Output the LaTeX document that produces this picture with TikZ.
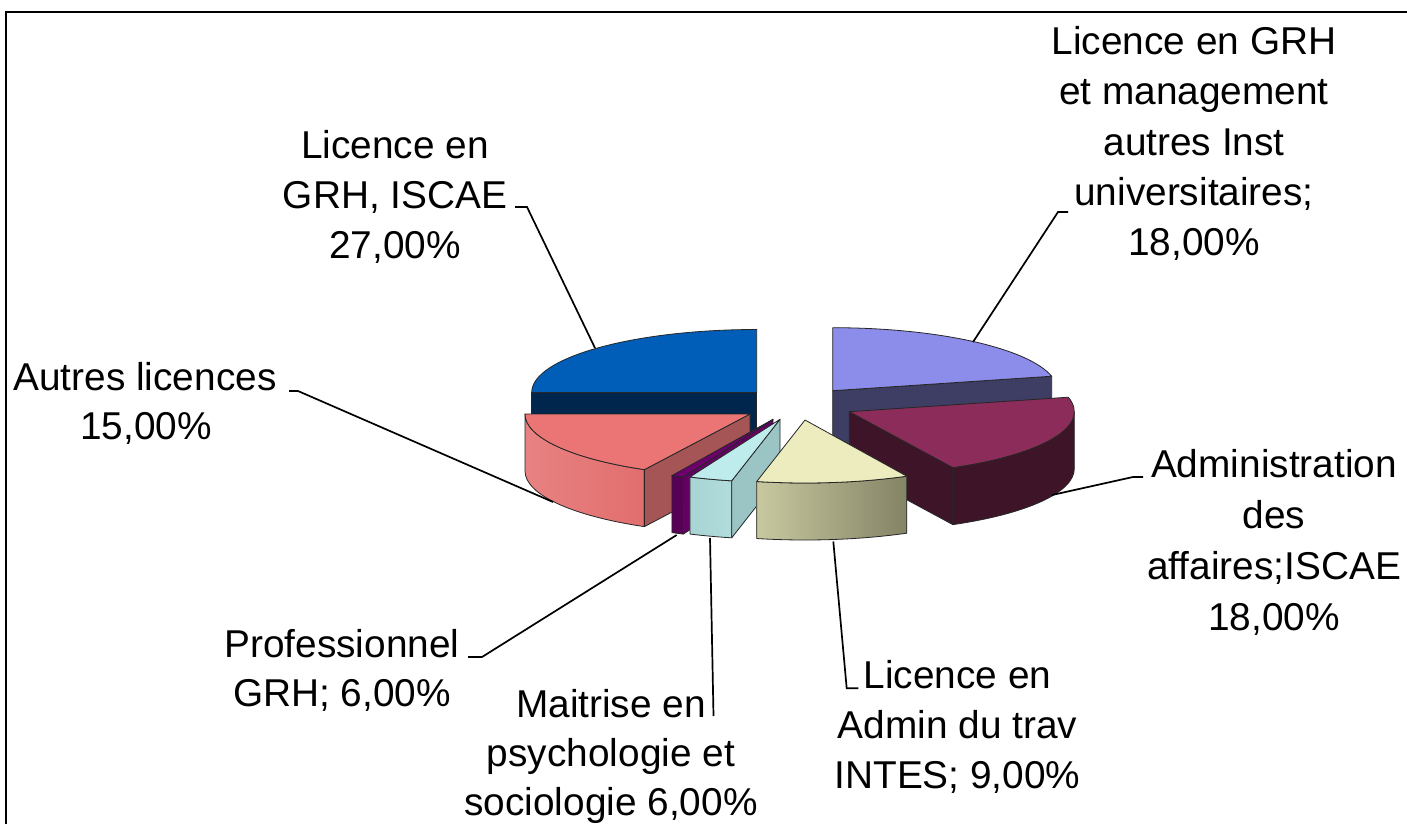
\documentclass[tikz,border=0pt]{standalone}
\usepackage{fontspec}
\setmainfont{Liberation Sans}
\definecolor{blueTop}{RGB}{0,94,184}
\definecolor{blueSide}{RGB}{0,38,78}
\definecolor{lpTop}{RGB}{140,140,234}
\definecolor{lpSide}{RGB}{62,62,100}
\definecolor{mrTop}{RGB}{140,44,90}
\definecolor{mrSide}{RGB}{62,20,40}
\definecolor{pkTop}{RGB}{235,117,117}
\definecolor{pkWallL}{RGB}{232,130,130}
\definecolor{pkWallR}{RGB}{226,110,110}
\definecolor{pkSide}{RGB}{165,85,85}
\definecolor{ppTop}{RGB}{110,0,110}
\definecolor{ppFront}{RGB}{88,0,88}
\definecolor{ppSide}{RGB}{100,0,100}
\definecolor{cyTop}{RGB}{190,236,236}
\definecolor{cyWallL}{RGB}{168,212,212}
\definecolor{cyWallR}{RGB}{178,220,220}
\definecolor{cySide}{RGB}{155,196,196}
\definecolor{crTop}{RGB}{236,236,190}
\definecolor{crWallL}{RGB}{200,200,160}
\definecolor{crWallR}{RGB}{132,132,102}
% top face of a slice: centre x, centre y, start angle, end angle, style
\newcommand\pieTop[5]{\path[#5] (#1,#2) -- ({#1+225*cos(#3)},{#2-63*sin(#3)}) arc[start angle=#3,end angle=#4,x radius=225pt,y radius=63pt] -- cycle;}
% outer wall of a slice
\newcommand\pieWall[5]{\path[#5] ({#1+225*cos(#3)},{#2-63*sin(#3)}) arc[start angle=#3,end angle=#4,x radius=225pt,y radius=63pt] -- ++(0,57) arc[start angle=#4,end angle=#3,x radius=225pt,y radius=63pt] -- cycle;}
% radial cut face of a slice
\newcommand\pieRad[4]{\path[#4] (#1,#2) -- ({#1+225*cos(#3)},{#2-63*sin(#3)}) -- ++(0,57) -- (#1,{#2+57}) -- cycle;}
\begin{document}
\begin{tikzpicture}[x=1pt,y=-1pt,
  face/.style={draw=black!85,line width=0.8pt,line join=round},
  leader/.style={draw=black,line width=1.7pt,line join=miter},
  lbl/.style={anchor=base,inner sep=0pt,font=\fontsize{38.8}{50}\selectfont}]
\useasboundingbox (0,0) rectangle (1407,824);
\fill[white] (0,0) rectangle (1407,824);
\draw[line width=1.3pt] (6,824) -- (6,12) -- (1407,12);

% Licence en GRH, ISCAE (blue)
\pieRad{756.7}{392.5}{180}{face,fill=blueSide}
\pieTop{756.7}{392.5}{90}{180}{face,fill=blueTop}
% Licence en GRH et management (light purple)
\pieRad{832.7}{390.7}{13.3}{face,fill=lpSide}
\pieTop{832.7}{390.7}{13.3}{90}{face,fill=lpTop}
% Autres licences (pink)
\pieWall{750}{414}{180}{242}{face,left color=pkWallL,right color=pkWallR}
\pieRad{750}{414}{242}{face,fill=pkSide}
\pieTop{750}{414}{180}{242}{face,fill=pkTop}
% Administration des affaires (maroon)
\pieRad{849.3}{411.7}{-62.6}{face,fill=mrSide}
\pieWall{849.3}{411.7}{-62.6}{0}{face,fill=mrSide}
\pieTop{849.3}{411.7}{-62.6}{13.3}{face,fill=mrTop}
% Professionnel GRH (purple)
\pieWall{773}{419.3}{243.3}{246.5}{face,fill=ppFront}
\pieRad{773}{419.3}{246.5}{face,fill=ppSide}
\pieTop{773}{419.3}{243.3}{246.5}{face,fill=ppTop}
% Maitrise (cyan)
\pieWall{780}{419.3}{246.4}{257.6}{face,left color=cyWallL,right color=cyWallR}
\pieRad{780}{419.3}{257.6}{face,fill=cySide}
\pieTop{780}{419.3}{246.4}{257.6}{face,fill=cyTop}
% Licence en Admin du trav (cream)
\pieWall{805}{420}{257.6}{296.9}{face,left color=crWallL,right color=crWallR}
\pieTop{805}{420}{257.6}{296.9}{face,fill=crTop}

% labels
\node[lbl] (b1) at (395,158) {Licence en};
\node[lbl] (b2) at (395,208) {GRH, ISCAE};
\node[lbl] (b3) at (395,258) {27,00\%};

\node[lbl] (p1) at (1194,55) {Licence en GRH};
\node[lbl] (p2) at (1194,105) {et management};
\node[lbl] (p3) at (1194,155) {autres Inst};
\node[lbl] (p4) at (1194,205) {universitaires;};
\node[lbl] (p5) at (1194,255) {18,00\%};

\node[lbl] (a1) at (145,390) {Autres licences};
\node[lbl] (a2) at (146,439) {15,00\%};

\node[lbl] (m1) at (1274,477) {Administration};
\node[lbl] (m2) at (1274,528) {des};
\node[lbl] (m3) at (1274,579) {affaires;ISCAE};
\node[lbl] (m4) at (1274,630) {18,00\%};

\node[lbl] (c1) at (957.5,688) {Licence en};
\node[lbl] (c2) at (957.5,738) {Admin du trav};
\node[lbl] (c3) at (957.5,788) {INTES; 9,00\%};

\node[lbl] (s1) at (611,717) {Maitrise en};
\node[lbl] (s2) at (611,766) {psychologie et};
\node[lbl] (s3) at (611,815) {sociologie 6,00\%};

\node[lbl] (g1) at (342,657) {Professionnel};
\node[lbl] (g2) at (342,706) {GRH; 6,00\%};

% leader lines
\coordinate (bS) at (595,348); \coordinate (bK) at (527,207); \coordinate (bE) at (515,207);
\coordinate (pS) at (973,342); \coordinate (pK) at (1058,212); \coordinate (pE) at (1068,212);
\coordinate (aS) at (553,502); \coordinate (aK) at (298,391); \coordinate (aE) at (289,391);
\coordinate (mS) at (1052,495); \coordinate (mK) at (1133,477); \coordinate (mE) at (1143,477);
\coordinate (cS) at (833.3,541.5); \coordinate (cK) at (846.7,688.3); \coordinate (cE) at (858.3,688.3);
\coordinate (sS) at (710,538); \coordinate (sK) at (713.5,716);
\coordinate (gS) at (676.7,535); \coordinate (gK) at (482,657); \coordinate (gE) at (468,657);
\draw[leader] (bS) -- (bK) -- (bE);
\draw[leader] (pS) -- (pK) -- (pE);
\draw[leader] (aS) -- (aK) -- (aE);
\draw[leader] (mS) -- (mK) -- (mE);
\draw[leader] (cS) -- (cK) -- (cE);
\draw[leader] (sS) -- (sK);
\draw[leader] (gS) -- (gK) -- (gE);
\end{tikzpicture}
\end{document}
